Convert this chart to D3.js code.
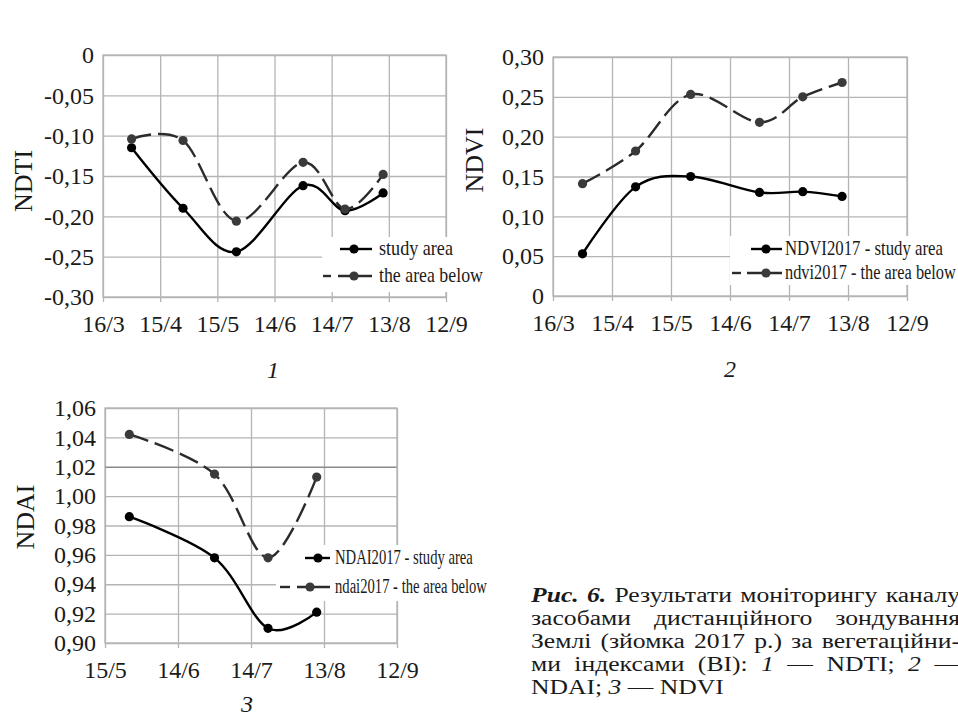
<!DOCTYPE html>
<html><head><meta charset="utf-8">
<script src="https://cdn.jsdelivr.net/npm/d3@7"></script>
<style>body{margin:0;background:#fff}svg{display:block}</style>
</head><body>
<svg id="c" width="958" height="719"></svg>
<script>
// ---------- data ----------
const obsDates = ["2017-03-31","2017-04-27","2017-05-25","2017-06-29","2017-07-21","2017-08-10"];
const ndaiDates = ["2017-05-25","2017-06-29","2017-07-21","2017-08-10"];
const tickLabelsAB = ["16/3","15/4","15/5","14/6","14/7","13/8","12/9"];
const tickLabelsC = ["15/5","14/6","14/7","13/8","12/9"];

const ndtiStudy = [-0.115, -0.190, -0.244, -0.162, -0.193, -0.171];
const ndtiBelow = [-0.104, -0.106, -0.206, -0.133, -0.191, -0.148];
const ndviStudy = [0.053, 0.137, 0.150, 0.130, 0.131, 0.125];
const ndviBelow = [0.141, 0.182, 0.253, 0.218, 0.250, 0.268];
const ndaiStudy = [0.986, 0.958, 0.910, 0.921];
const ndaiBelow = [1.042, 1.015, 0.958, 1.013];

const ndtiTicks = [0, -0.05, -0.10, -0.15, -0.20, -0.25, -0.30];
const ndviTicks = [0, 0.05, 0.10, 0.15, 0.20, 0.25, 0.30];
const ndaiTicks = [0.90, 0.92, 0.94, 0.96, 0.98, 1.00, 1.02, 1.04, 1.06];

const legend1 = ["study area", "the area below"];
const legend2 = ["NDVI2017 - study area", "ndvi2017 - the area below"];
const legend3 = ["NDAI2017 - study area", "ndai2017 - the area below"];

const captionLines = [
  "Рис. 6. Результати моніторингу каналу",
  "засобами дистанційного зондування",
  "Землі (зйомка 2017 р.) за вегетаційни-",
  "ми індексами (BI): 1 — NDTI; 2 —",
  "NDAI; 3 — NDVI"
];

// ---------- helpers ----------
const FONT = "'Liberation Serif', 'Times New Roman', serif";
const GRID = "#b4b4b4";
const svg = d3.select("#c");
const parseLabel = s => { const [d, m] = s.split("/").map(Number); return new Date(Date.UTC(2017, m - 1, d)); };
const parseISO = s => new Date(s + "T00:00:00Z");
const fmt = v => v === 0 ? "0" : v.toFixed(2).replace(".", ",");

function drawChart(cfg) {
  const {l, r, t, b} = cfg.box;
  const g = svg.append("g");
  const xTickDates = cfg.xTicks.map(parseLabel);
  const x = d3.scaleUtc().domain([xTickDates[0], xTickDates[xTickDates.length - 1]]).range([l, r]);
  const y = d3.scaleLinear().domain(cfg.yDomain).range([b, t]);

  // grid
  g.append("g").attr("transform", `translate(0,${b})`)
    .call(d3.axisBottom(x).tickValues(xTickDates).tickSize(-(b - t)).tickFormat(""))
    .call(s => s.select(".domain").remove())
    .call(s => s.selectAll("line").attr("stroke", GRID).attr("stroke-width", 1.3));
  g.append("g").attr("transform", `translate(${l},0)`)
    .call(d3.axisLeft(y).tickValues(cfg.yTicks).tickSize(-(r - l)).tickFormat(""))
    .call(s => s.select(".domain").remove())
    .call(s => s.selectAll("line").attr("stroke", d => (cfg.darkTick !== undefined && Math.abs(d - cfg.darkTick) < 1e-9) ? "#8a8a8a" : GRID).attr("stroke-width", 1.3));
  g.append("rect").attr("x", l).attr("y", t).attr("width", r - l).attr("height", b - t)
    .attr("fill", "none").attr("stroke", GRID).attr("stroke-width", 1.3);

  // x axis labels + small ticks
  g.append("g").attr("transform", `translate(0,${b})`)
    .call(d3.axisBottom(x).tickValues(xTickDates).tickSize(5).tickPadding(13)
      .tickFormat((d, i) => cfg.xTicks[i]))
    .attr("font-family", FONT).attr("font-size", 24)
    .call(s => s.select(".domain").remove())
    .call(s => s.selectAll("line").attr("stroke", GRID).attr("stroke-width", 1.3))
    .call(s => s.selectAll("text").attr("font-family", FONT).attr("font-size", 24).attr("fill", "#1a1a1a"));
  // y axis labels
  g.append("g").attr("transform", `translate(${l},0)`)
    .call(d3.axisLeft(y).tickValues(cfg.yTicks).tickSize(0).tickPadding(9).tickFormat(fmt))
    .attr("font-family", FONT).attr("font-size", 24)
    .call(s => s.select(".domain").remove())
    .call(s => s.selectAll("text").attr("font-family", FONT).attr("font-size", 24).attr("fill", "#1a1a1a"));

  // axis title
  g.append("text").attr("transform", `translate(${cfg.titleX},${cfg.titleY}) rotate(-90)`)
    .attr("text-anchor", "middle").attr("dominant-baseline", "central")
    .attr("font-family", FONT).attr("font-size", 26).attr("fill", "#1a1a1a").text(cfg.title);

  // legend background
  const L = cfg.legend;
  g.append("rect").attr("x", L.box[0]).attr("y", L.box[1]).attr("width", L.box[2]).attr("height", L.box[3]).attr("fill", "#fff");

  // series
  const line = d3.line().x(d => x(d[0])).y(d => y(d[1])).curve(d3.curveCatmullRom.alpha(0));
  cfg.series.forEach(s => {
    const pts = s.dates.map((d, i) => [parseISO(d), s.values[i]]);
    g.append("path").datum(pts).attr("d", line).attr("fill", "none")
      .attr("stroke", s.dashed ? "#2b2b2b" : "#000").attr("stroke-width", 2.4)
      .attr("stroke-dasharray", s.dashed ? "20,7" : null).attr("stroke-linecap", "butt");
    g.selectAll(null).data(pts).join("circle")
      .attr("cx", d => x(d[0])).attr("cy", d => y(d[1])).attr("r", 4.6)
      .attr("fill", s.dashed ? "#3a3a3a" : "#000");
  });

  // legend entries (condensed text via horizontal scale)
  L.rows.forEach((row, i) => {
    if (row.dash) g.append("line").attr("x1", row.dash[0]).attr("x2", row.dash[1]).attr("y1", row.y).attr("y2", row.y)
      .attr("stroke", "#2b2b2b").attr("stroke-width", 2.4);
    g.append("line").attr("x1", row.line[0]).attr("x2", row.line[1]).attr("y1", row.y).attr("y2", row.y)
      .attr("stroke", i ? "#2b2b2b" : "#000").attr("stroke-width", 2.4);
    g.append("circle").attr("cx", row.marker).attr("cy", row.y).attr("r", 4.6).attr("fill", i ? "#3a3a3a" : "#000");
    const tg = g.append("g");
    const tx = tg.append("text").attr("x", 0).attr("y", 0).attr("font-family", FONT).attr("font-size", 20)
      .attr("fill", "#1a1a1a").text(L.names[i]);
    const sx = row.tl / tx.node().getComputedTextLength();
    tg.attr("transform", `translate(${L.textX},${row.y + 6}) scale(${sx},1)`);
  });

  // chart number
  svg.append("text").attr("x", cfg.num[1]).attr("y", cfg.num[2]).attr("text-anchor", "middle")
    .attr("font-family", FONT).attr("font-style", "italic").attr("font-size", 24).attr("fill", "#1a1a1a").text(cfg.num[0]);
}

drawChart({
  box: {l: 103, r: 446, t: 55, b: 297}, xTicks: tickLabelsAB, yTicks: ndtiTicks, yDomain: [-0.30, 0],
  series: [{dates: obsDates, values: ndtiStudy, dashed: false}, {dates: obsDates, values: ndtiBelow, dashed: true}],
  title: "NDTI", titleX: 23, titleY: 181,
  legend: {names: legend1, box: [322, 237, 170, 55], textX: 379,
    rows: [{y: 249, line: [340, 372], marker: 354, tl: 74}, {y: 276, dash: [323, 331], line: [338, 372], marker: 354, tl: 104}]},
  num: ["1", 273, 378]
});
drawChart({
  box: {l: 553, r: 907, t: 57, b: 296}, xTicks: tickLabelsAB, yTicks: ndviTicks, yDomain: [0, 0.30],
  series: [{dates: obsDates, values: ndviStudy, dashed: false}, {dates: obsDates, values: ndviBelow, dashed: true}],
  title: "NDVI", titleX: 474, titleY: 160,
  legend: {names: legend2, box: [730, 236, 228, 49], textX: 785,
    rows: [{y: 249, line: [751, 782], marker: 766, tl: 158}, {y: 273, dash: [732, 741], line: [747, 782], marker: 766, tl: 171}]},
  num: ["2", 730, 377]
});
drawChart({
  box: {l: 105, r: 397, t: 408, b: 643}, xTicks: tickLabelsC, yTicks: ndaiTicks, yDomain: [0.90, 1.06], darkTick: 1.02,
  series: [{dates: ndaiDates, values: ndaiStudy, dashed: false}, {dates: ndaiDates, values: ndaiBelow, dashed: true}],
  title: "NDAI", titleX: 25, titleY: 517,
  legend: {names: legend3, box: [276, 545, 220, 56], textX: 335,
    rows: [{y: 558, line: [305, 330], marker: 318, tl: 138}, {y: 587, dash: [280, 290], line: [297, 330], marker: 310, tl: 152}]},
  num: ["3", 247, 712]
});

// ---------- caption ----------
const CAP_X = 531, CAP_R = 960, CAP_FS = 20.5, STRETCH = 1.25;
const capY = [602, 625, 648, 671, 694];
const capG = svg.append("g").attr("font-family", FONT).attr("font-size", CAP_FS).attr("fill", "#1a1a1a");
captionLines.forEach((ln, li) => {
  const words = ln.split(" ");
  const nodes = words.map(w => {
    const tx = capG.append("text").attr("y", capY[li]).text(w);
    if (li === 0 && (w === "Рис." || w === "6.")) tx.attr("font-weight", "bold").attr("font-style", "italic");
    if (li >= 3 && /^[123]$/.test(w)) tx.attr("font-style", "italic");
    const wd = tx.node().getComputedTextLength() * STRETCH;
    tx.attr("textLength", wd).attr("lengthAdjust", "spacingAndGlyphs");
    return {tx, wd};
  });
  const total = d3.sum(nodes, n => n.wd);
  const normal = CAP_FS * 0.25 * STRETCH;
  const gap = li < captionLines.length - 1 ? Math.max(normal * 0.8, (CAP_R - CAP_X - total) / (nodes.length - 1)) : normal;
  let cx = CAP_X;
  nodes.forEach(n => { n.tx.attr("x", cx); cx += n.wd + gap; });
});
</script>
</body></html>
